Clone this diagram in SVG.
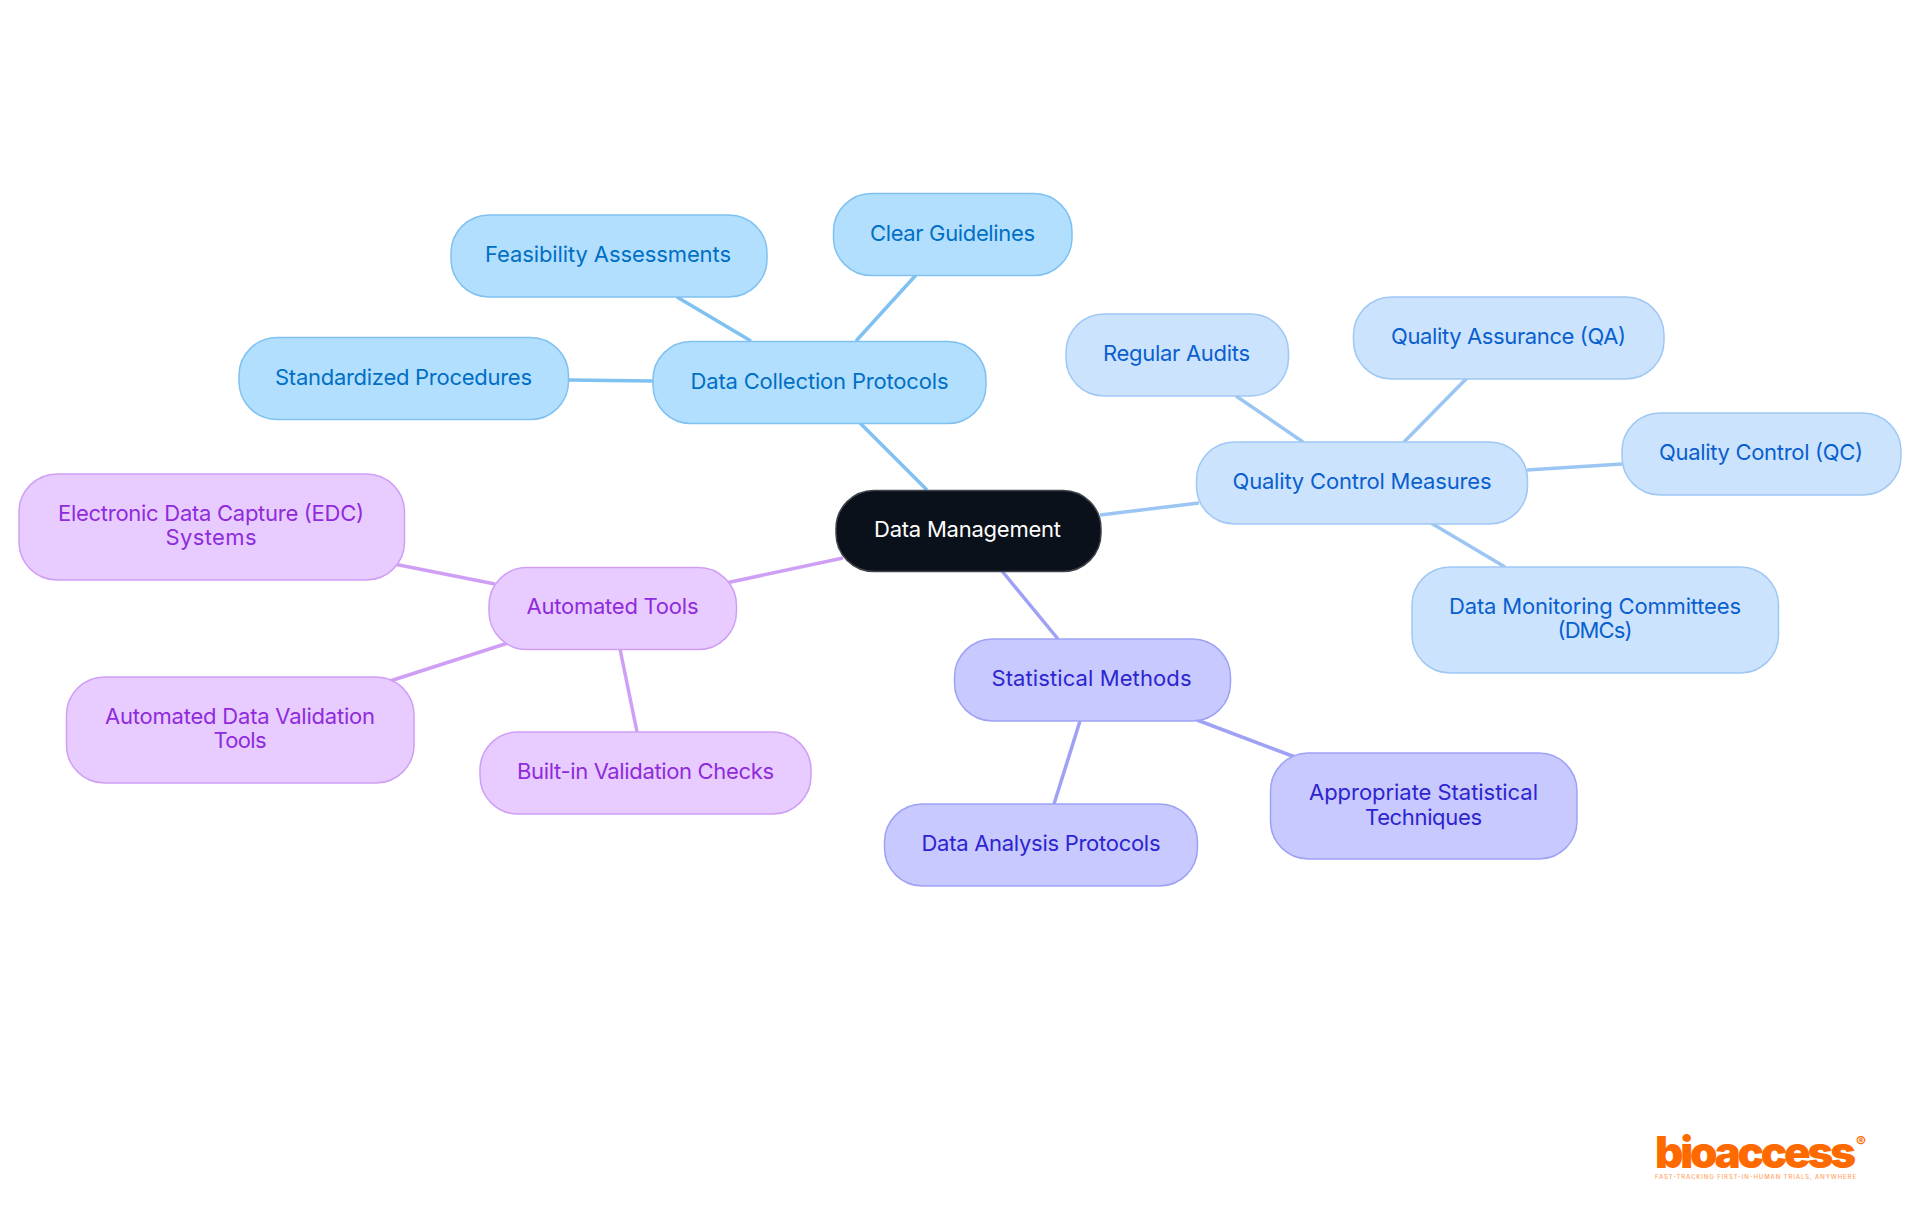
<svg xmlns="http://www.w3.org/2000/svg" width="1920" height="1215" viewBox="0 0 1920 1215">
<style>
text{font-family:"Inter","Noto Sans","Liberation Sans",sans-serif;font-size:22px;font-weight:380;text-anchor:middle}
.n rect{stroke-width:1.5}
.c line{stroke-width:3.5;fill:none}
.sky rect{fill:#b3dfff;stroke:#7fc1f1}.sky text{fill:#006fc4}
.blue rect{fill:#cce3fd;stroke:#a0c8f4}.blue text{fill:#0a5fcf}
.ind rect{fill:#c7c9ff;stroke:#9fa1f5}.ind text{fill:#2e24d0}
.pur rect{fill:#e8ccff;stroke:#cf9ff5}.pur text{fill:#8f2bdc}
.l-sky{stroke:#7fc1f1}.l-blue{stroke:#9bc6f3}.l-ind{stroke:#9fa1f5}.l-pur{stroke:#cf9ff5}
</style>
<rect width="1920" height="1215" fill="#ffffff"/>
<g id="connectors" class="c">
<line class="l-sky" x1="860" y1="423" x2="927" y2="490"/>
<line class="l-sky" x1="677" y1="297" x2="751" y2="341"/>
<line class="l-sky" x1="916" y1="275" x2="856" y2="341"/>
<line class="l-sky" x1="568" y1="380" x2="653" y2="381"/>
<line class="l-blue" x1="1100" y1="515" x2="1199" y2="503"/>
<line class="l-blue" x1="1236" y1="396" x2="1303" y2="442"/>
<line class="l-blue" x1="1467" y1="378" x2="1404" y2="442"/>
<line class="l-blue" x1="1527" y1="470" x2="1622" y2="464"/>
<line class="l-blue" x1="1431" y1="523" x2="1505" y2="567"/>
<line class="l-ind" x1="1002" y1="571" x2="1058" y2="639"/>
<line class="l-ind" x1="1080" y1="721" x2="1054" y2="804"/>
<line class="l-ind" x1="1197" y1="720" x2="1295" y2="757"/>
<line class="l-pur" x1="726" y1="583" x2="843" y2="558"/>
<line class="l-pur" x1="394" y1="564" x2="495" y2="584"/>
<line class="l-pur" x1="390" y1="681" x2="508" y2="643"/>
<line class="l-pur" x1="620" y1="649" x2="637" y2="732"/>
</g>
<g id="n-data-management" class="n"><rect x="836" y="490.5" width="265" height="81" rx="38" fill="#0b111a" stroke="#3f444b"/><text x="967.500" y="537" fill="#ffffff" textLength="187">Data Management</text></g>
<g id="n-data-collection" class="n sky"><rect x="653" y="341.5" width="333" height="82" rx="38"/><text x="819.500" y="389" textLength="258">Data Collection Protocols</text></g>
<g id="n-feasibility" class="n sky"><rect x="451" y="215" width="316" height="82" rx="38"/><text x="608" y="262" textLength="246">Feasibility Assessments</text></g>
<g id="n-clear" class="n sky"><rect x="833.500" y="193.500" width="238.500" height="82" rx="38"/><text x="952.500" y="241" textLength="165">Clear Guidelines</text></g>
<g id="n-standardized" class="n sky"><rect x="239" y="337.500" width="329.500" height="82" rx="38"/><text x="403.500" y="385" textLength="257">Standardized Procedures</text></g>
<g id="n-qcm" class="n blue"><rect x="1196.500" y="442" width="331" height="82" rx="38"/><text x="1362" y="489" textLength="259">Quality Control Measures</text></g>
<g id="n-regular" class="n blue"><rect x="1066" y="314" width="222.500" height="82" rx="38"/><text x="1176.500" y="361" textLength="147">Regular Audits</text></g>
<g id="n-qa" class="n blue"><rect x="1353.500" y="297" width="310.500" height="82" rx="38"/><text x="1508.500" y="344" textLength="235">Quality Assurance (QA)</text></g>
<g id="n-qc" class="n blue"><rect x="1622" y="413" width="279" height="82" rx="38"/><text x="1761" y="460" textLength="204">Quality Control (QC)</text></g>
<g id="n-dmc" class="n blue"><rect x="1412" y="567" width="366.500" height="106" rx="38"/><text x="1595" y="614" textLength="292">Data Monitoring Committees</text><text x="1595" y="638" textLength="75">(DMCs)</text></g>
<g id="n-statistical" class="n ind"><rect x="954.500" y="639" width="276" height="82" rx="38"/><text x="1091.500" y="686" textLength="200">Statistical Methods</text></g>
<g id="n-appropriate" class="n ind"><rect x="1270.500" y="753" width="306.500" height="106" rx="38"/><text x="1423.500" y="800" textLength="229">Appropriate Statistical</text><text x="1423.500" y="825" textLength="117">Techniques</text></g>
<g id="n-analysis" class="n ind"><rect x="884.500" y="804" width="313" height="82" rx="38"/><text x="1041" y="851" textLength="239">Data Analysis Protocols</text></g>
<g id="n-automated" class="n pur"><rect x="489" y="567.500" width="247.500" height="82" rx="38"/><text x="612.500" y="614" textLength="172">Automated Tools</text></g>
<g id="n-edc" class="n pur"><rect x="19" y="474" width="385.500" height="106" rx="38"/><text x="211" y="521" textLength="306">Electronic Data Capture (EDC)</text><text x="211" y="545" textLength="91">Systems</text></g>
<g id="n-adv" class="n pur"><rect x="66.500" y="677" width="347.500" height="106" rx="38"/><text x="240" y="724" textLength="270">Automated Data Validation</text><text x="240" y="748" textLength="53">Tools</text></g>
<g id="n-builtin" class="n pur"><rect x="480" y="732" width="331" height="82" rx="38"/><text x="645.500" y="779" textLength="257">Built-in Validation Checks</text></g>
<g id="logo">
<text x="1755.500" y="1168" style="font-size:44px;font-weight:900;fill:#ff6a00" textLength="201" lengthAdjust="spacing">bioaccess</text>
<text x="1861" y="1147" style="font-size:15px;font-weight:700;fill:#ff6a00">®</text>
<text x="1755.500" y="1179" style="font-size:6px;font-weight:500;fill:#ffa566" textLength="201">FAST-TRACKING FIRST-IN-HUMAN TRIALS, ANYWHERE</text>
</g>
</svg>
